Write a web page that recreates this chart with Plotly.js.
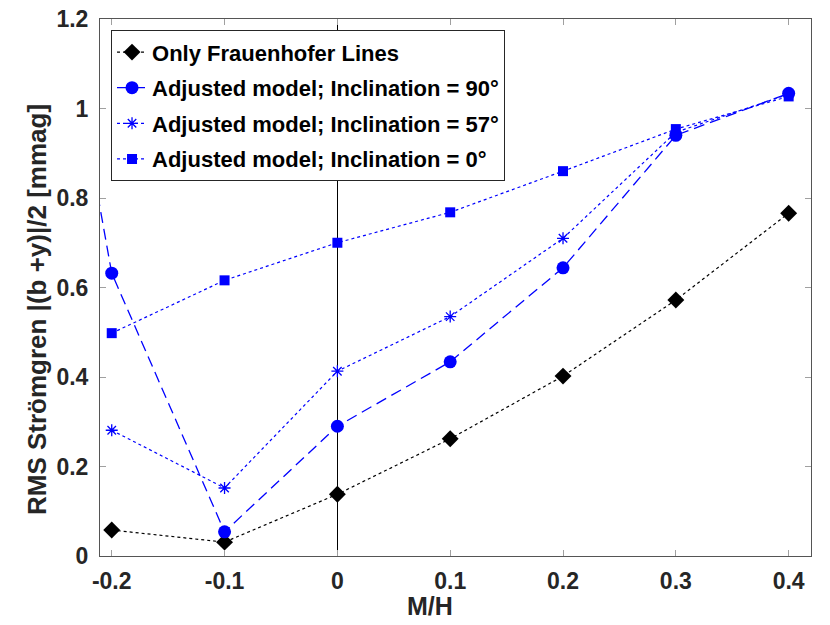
<!DOCTYPE html>
<html>
<head>
<meta charset="utf-8">
<script src="https://cdn.plot.ly/plotly-3.0.1.min.js"></script>
<style>
  body { margin: 0; background: #fff; }
  #graph1 { width: 830px; height: 625px; }
</style>
</head>
<body>
<div id="graph1"></div>
<script>
// M/H values
var metal = [-0.2, -0.1, 0, 0.1, 0.2, 0.3, 0.4];
// the 90 deg run also has a point left of the plotted window (line runs in from the edge)
var metal90 = [-0.3, -0.2, -0.1, 0, 0.1, 0.2, 0.3, 0.4];

var onlyFrauenhofer = [0.058, 0.031, 0.138, 0.262, 0.402, 0.572, 0.766];
var incl90 = [2.04, 0.632, 0.054, 0.290, 0.434, 0.644, 0.940, 1.034];
var incl57 = [0.281, 0.152, 0.413, 0.535, 0.710, 0.947, 1.032];
var incl0 = [0.498, 0.616, 0.700, 0.768, 0.860, 0.954, 1.027];

var xTicks = ["-0.2", "-0.1", "0", "0.1", "0.2", "0.3", "0.4"];
var yTickVals = [0, 0.2, 0.4, 0.6, 0.8, 1, 1.2];
var yTicks = ["0", "0.2", "0.4", "0.6", "0.8", "1", "1.2"];

var names = [
  "Only Frauenhofer Lines",
  "Adjusted model; Inclination = 90°",
  "Adjusted model; Inclination = 57°",
  "Adjusted model; Inclination = 0°"
];

var font = "Liberation Sans, Arial, Helvetica, sans-serif";
var axisGrey = "#262626";

var data = [
  {
    x: metal, y: onlyFrauenhofer, name: names[0], legendgroup: "a",
    mode: "lines+markers", type: "scatter",
    line: {color: "black", width: 1.2, dash: "dot"},
    marker: {symbol: "diamond", size: 13, color: "black"}
  },
  {
    x: metal90, y: incl90, name: names[1], legendgroup: "b",
    mode: "lines+markers", type: "scatter",
    line: {color: "#0000ff", width: 1.3, dash: "11px,6px"},
    marker: {symbol: "circle", size: 13, color: "#0000ff"}
  },
  {
    x: metal, y: incl57, name: names[2], legendgroup: "c",
    mode: "lines+markers", type: "scatter",
    line: {color: "#0000ff", width: 1.2, dash: "dot"},
    marker: {symbol: "asterisk-open", size: 10, color: "#0000ff", line: {color: "#0000ff", width: 1.3}}
  },
  {
    x: metal, y: incl0, name: names[3], legendgroup: "d",
    mode: "lines+markers", type: "scatter",
    line: {color: "#0000ff", width: 1.2, dash: "dot"},
    marker: {symbol: "square", size: 10, color: "#0000ff"}
  }
];

var layout = {
  width: 830,
  height: 625,
  margin: {l: 100, r: 19, t: 19, b: 69, pad: 0},
  paper_bgcolor: "#ffffff",
  plot_bgcolor: "#ffffff",
  font: {family: font, size: 23, color: axisGrey, weight: "bold"},
  showlegend: true,
  legend: {
    x: 0.0155, y: 0.979, xanchor: "left", yanchor: "top",
    bgcolor: "#ffffff", bordercolor: axisGrey, borderwidth: 1,
    font: {family: font, size: 22, color: "#000000", weight: "bold"},
    traceorder: "grouped", tracegroupgap: 4, itemwidth: 30
  },
  xaxis: {
    range: [-0.2104, 0.4198],
    tickvals: metal,
    ticktext: xTicks,
    ticks: "inside", ticklen: 6, tickcolor: "#a0a0a0",
    ticklabelstandoff: 4,
    showline: true, linecolor: "#555555", linewidth: 1, mirror: "ticks",
    showgrid: false,
    zeroline: true, zerolinecolor: "#000000", zerolinewidth: 1.2,
    tickfont: {family: font, size: 23, color: axisGrey, weight: "bold"}
  },
  yaxis: {
    range: [0, 1.2],
    tickvals: yTickVals,
    ticktext: yTicks,
    ticks: "inside", ticklen: 6, tickcolor: "#a0a0a0",
    ticklabelstandoff: 6,
    showline: true, linecolor: "#555555", linewidth: 1, mirror: "ticks",
    showgrid: false, zeroline: false,
    tickfont: {family: font, size: 23, color: axisGrey, weight: "bold"}
  },
  annotations: [
    {
      text: "M/H", xref: "paper", yref: "paper",
      x: 0.464, y: -0.093, xanchor: "center", yanchor: "middle",
      showarrow: false,
      font: {family: font, size: 25, color: axisGrey, weight: "bold"}
    },
    {
      text: "RMS Strömgren |(b +y)|/2 [mmag]", xref: "paper", yref: "paper",
      x: -0.0886, y: 0.458, xanchor: "center", yanchor: "middle",
      textangle: -90, showarrow: false,
      font: {family: font, size: 26, color: axisGrey, weight: "bold"}
    }
  ]
};

Plotly.newPlot("graph1", data, layout, {displayModeBar: false, staticPlot: true});
</script>
</body>
</html>
